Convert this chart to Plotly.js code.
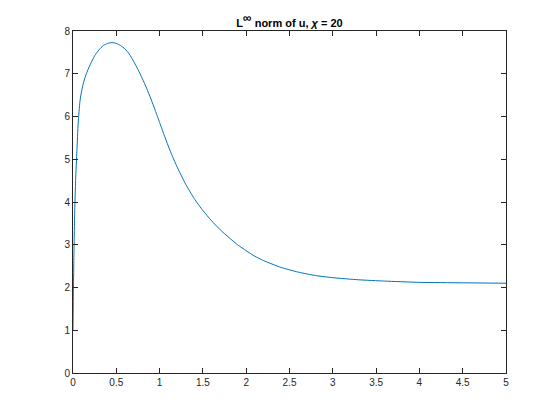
<!DOCTYPE html>
<html>
<head>
<meta charset="utf-8">
<script src="https://cdn.plot.ly/plotly-3.0.1.min.js"></script>
<style>
  html, body { margin: 0; padding: 0; background: #fff; }
  #chart { width: 560px; height: 420px; }
</style>
</head>
<body>
<div id="chart"></div>
<script>
// time values and the L-infinity norm
const tVals = [0, 0.005, 0.01, 0.02, 0.03, 0.045, 0.06, 0.08, 0.1, 0.12, 0.15, 0.2,
  0.25, 0.3, 0.35, 0.4, 0.45, 0.5, 0.55, 0.6, 0.65, 0.7, 0.75, 0.8, 0.85, 0.9, 0.95,
  1.0, 1.05, 1.1, 1.15, 1.2, 1.3, 1.4, 1.5, 1.6, 1.7, 1.8, 1.9, 2.0, 2.1, 2.2, 2.4,
  2.6, 2.8, 3.0, 3.3, 3.6, 4.0, 4.5, 5.0];
const normVals = [1.0, 2.0, 2.7, 3.8, 4.5, 5.2, 5.85, 6.35, 6.6, 6.78, 6.98, 7.22,
  7.42, 7.56, 7.66, 7.71, 7.73, 7.71, 7.66, 7.58, 7.46, 7.29, 7.1, 6.89, 6.66, 6.41, 6.14,
  5.86, 5.58, 5.31, 5.06, 4.83, 4.42, 4.08, 3.8, 3.56, 3.35, 3.17, 3.0, 2.86, 2.73, 2.63, 2.47,
  2.36, 2.28, 2.23, 2.18, 2.15, 2.12, 2.11, 2.10];

const xTicks = [0, 0.5, 1, 1.5, 2, 2.5, 3, 3.5, 4, 4.5, 5];
const yTicks = [0, 1, 2, 3, 4, 5, 6, 7, 8];

const axisCommon = {
  showgrid: false,
  zeroline: false,
  showline: true,
  linecolor: "#262626",
  linewidth: 1,
  mirror: "ticks",
  ticks: "inside",
  ticklen: 5,
  tickcolor: "#262626",
  tickfont: { family: "Liberation Sans, Arial, sans-serif", size: 10, color: "#262626" }
};

const data = [
  {
    x: tVals,
    y: normVals,
    mode: "lines",
    type: "scatter",
    line: { color: "#0072BD", width: 1, shape: "spline", smoothing: 0.5 },
    hoverinfo: "skip"
  }
];

const layout = {
  width: 560,
  height: 420,
  margin: { l: 73, r: 54, t: 31, b: 47 },
  paper_bgcolor: "#fff",
  plot_bgcolor: "#fff",
  showlegend: false,
  title: {
    text: "<b>L<sup><span style=\"font-size:12px\">∞</span></sup> norm of u, <i>χ</i> = 20</b>",
    font: { family: "Liberation Sans, Arial, sans-serif", size: 11, color: "#000" },
    x: 0.5,
    xref: "paper",
    y: 0.955,
    yref: "container"
  },
  xaxis: Object.assign({}, axisCommon, {
    range: [0, 5],
    tickvals: xTicks,
    ticktext: xTicks.map(String)
  }),
  yaxis: Object.assign({}, axisCommon, {
    range: [0, 8],
    tickvals: yTicks,
    ticktext: yTicks.map(String)
  })
};

Plotly.newPlot("chart", data, layout, { staticPlot: true });
</script>
</body>
</html>
